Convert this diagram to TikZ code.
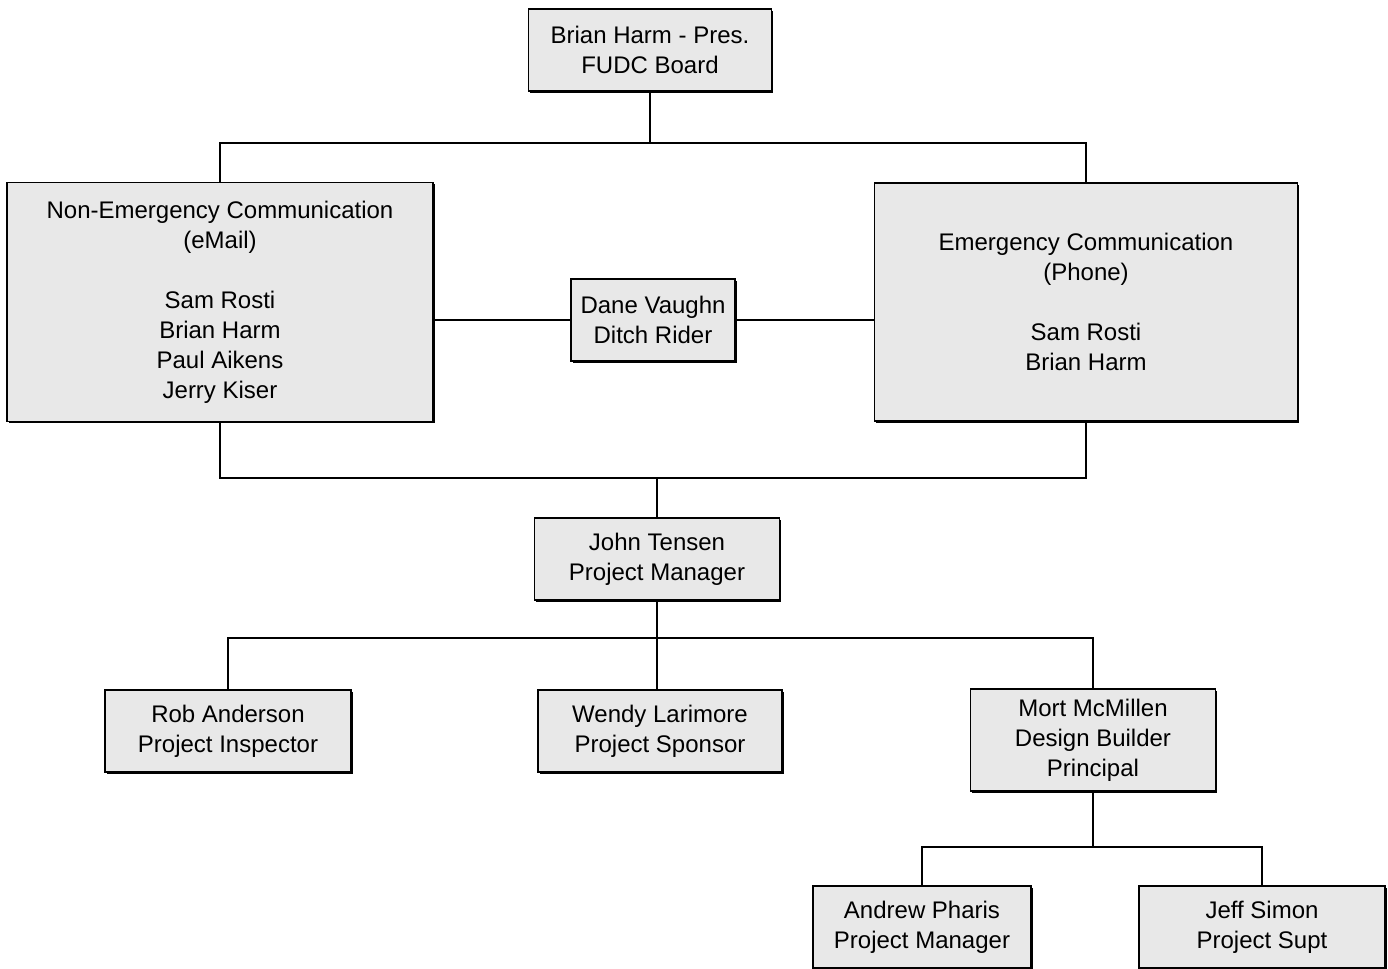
\documentclass[tikz,border=0pt]{standalone}
\usepackage{fontspec}
\setmainfont{Liberation Sans}
\usetikzlibrary{shadows}
\begin{document}
\begin{tikzpicture}[x=0.5pt,y=-0.5pt,
	box/.style={draw,line width=0.9pt,fill=gray!18,align=center,inner sep=0pt,
		font=\fontsize{12}{15}\selectfont,
		drop shadow={shadow xshift=0.9pt,shadow yshift=-0.9pt,fill=black,opacity=1}},
	link/.style={line width=0.9pt}]
	\useasboundingbox (0,0) rectangle (1388,969);
	% board
	\node[box,minimum width=121.5pt,minimum height=41pt] (board) at (650,50) {Brian Harm - Pres.\\FUDC Board};
	% communication
	\node[box,minimum width=213pt,minimum height=119.5pt] (nonemg) at (220,302) {Non-Emergency Communication\\(eMail)\\[15pt]Sam Rosti\\Brian Harm\\Paul Aikens\\Jerry Kiser};
	\node[box,minimum width=211.5pt,minimum height=119pt] (emg) at (1086,302) {Emergency Communication\\(Phone)\\[15pt]Sam Rosti\\Brian Harm};
	\node[box,minimum width=82pt,minimum height=41pt] (dane) at (653,320) {Dane Vaughn\\Ditch Rider};
	% project
	\node[box,minimum width=122.5pt,minimum height=41pt] (john) at (657,559) {John Tensen\\Project Manager};
	\node[box,minimum width=123pt,minimum height=41pt] (rob) at (228,731) {Rob Anderson\\Project Inspector};
	\node[box,minimum width=122pt,minimum height=41pt] (wendy) at (660,731) {Wendy Larimore\\Project Sponsor};
	\node[box,minimum width=122.5pt,minimum height=51pt] (mort) at (1093,740) {Mort McMillen\\Design Builder\\Principal};
	\node[box,minimum width=109pt,minimum height=41pt] (andrew) at (922,927) {Andrew Pharis\\Project Manager};
	\node[box,minimum width=123pt,minimum height=41pt] (jeff) at (1262,927) {Jeff Simon\\Project Supt};
	% joints
	\coordinate (j1) at (650,143);
	\coordinate (j2) at (657,478);
	\coordinate (j3) at (657,638);
	\coordinate (j4) at (1093,847);
	% connectors
	\draw[link] (board.south) -- (j1);
	\draw[link] (nonemg.north) |- (j1) -| (emg.north);
	\draw[link] (nonemg.east |- dane) -- (dane.west);
	\draw[link] (dane.east) -- (emg.west |- dane);
	\draw[link] (nonemg.south) |- (j2) -| (emg.south);
	\draw[link] (j2) -- (john.north);
	\draw[link] (john.south) -- (j3);
	\draw[link] (rob.north) |- (j3) -| (mort.north);
	\draw[link] (j3) -- (j3 |- wendy.north);
	\draw[link] (mort.south) -- (j4);
	\draw[link] (andrew.north) |- (j4) -| (jeff.north);
\end{tikzpicture}
\end{document}
